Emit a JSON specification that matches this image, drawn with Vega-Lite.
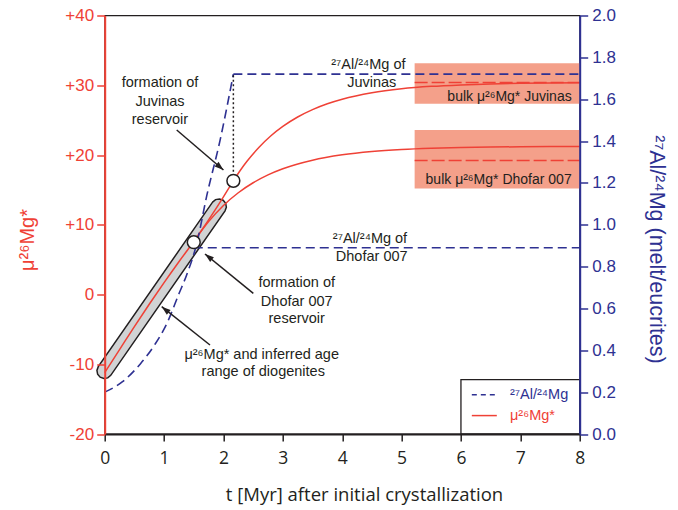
{
  "$schema": "https://vega.github.io/schema/vega-lite/v6.json",
  "width": 475,
  "height": 418.5,
  "autosize": "none",
  "padding": {"left": 104.7, "top": 15.5, "right": 98.3, "bottom": 76},
  "background": "white",
  "config": {"view": {"stroke": "#231f20", "strokeWidth": 1.3}, "font": "Liberation Sans"},
  "datasets": {
    "boxes": [
      {"t": 5.22, "t2": 8, "mu": 27.35, "mu2": 33.15},
      {"t": 5.22, "t2": 8, "mu": 15.2, "mu2": 23.6}
    ],
    "ellipse": [
      {"i": 1, "t": 1.8166, "mu": 13.239},
      {"i": 2, "t": 1.8671, "mu": 13.603},
      {"i": 3, "t": 1.9323, "mu": 13.702},
      {"i": 4, "t": 1.9948, "mu": 13.511},
      {"i": 5, "t": 2.0376, "mu": 13.081},
      {"i": 6, "t": 2.0492, "mu": 12.526},
      {"i": 7, "t": 2.0268, "mu": 11.994},
      {"i": 8, "t": 0.1017, "mu": -11.59},
      {"i": 9, "t": 0.0512, "mu": -11.954},
      {"i": 10, "t": -0.014, "mu": -12.053},
      {"i": 11, "t": -0.0765, "mu": -11.862},
      {"i": 12, "t": -0.1192, "mu": -11.432},
      {"i": 13, "t": -0.1309, "mu": -10.878},
      {"i": 14, "t": -0.1085, "mu": -10.345}
    ],
    "mu": [
      {"s": "m", "t": 0, "mu": -11.2},
      {"s": "m", "t": 0.25, "mu": -7.9},
      {"s": "m", "t": 0.5, "mu": -4.6},
      {"s": "m", "t": 0.75, "mu": -1.4},
      {"s": "m", "t": 1.0, "mu": 1.7},
      {"s": "m", "t": 1.25, "mu": 4.7},
      {"s": "m", "t": 1.5, "mu": 7.6},
      {"s": "m", "t": 1.75, "mu": 10.7},
      {"s": "m", "t": 2.0, "mu": 14.0},
      {"s": "m", "t": 2.167, "mu": 16.3},
      {"s": "m", "t": 2.3, "mu": 18.0},
      {"s": "m", "t": 2.4, "mu": 19.14},
      {"s": "m", "t": 2.6, "mu": 21.12},
      {"s": "m", "t": 2.8, "mu": 22.76},
      {"s": "m", "t": 3.0, "mu": 24.1},
      {"s": "m", "t": 3.25, "mu": 25.45},
      {"s": "m", "t": 3.5, "mu": 26.51},
      {"s": "m", "t": 3.75, "mu": 27.35},
      {"s": "m", "t": 4.0, "mu": 28.0},
      {"s": "m", "t": 4.5, "mu": 28.92},
      {"s": "m", "t": 5.0, "mu": 29.49},
      {"s": "m", "t": 5.5, "mu": 29.84},
      {"s": "m", "t": 6.0, "mu": 30.05},
      {"s": "m", "t": 6.5, "mu": 30.19},
      {"s": "m", "t": 7.0, "mu": 30.27},
      {"s": "m", "t": 7.5, "mu": 30.32},
      {"s": "m", "t": 8.0, "mu": 30.35},
      {"s": "d", "t": 1.5, "mu": 7.6},
      {"s": "d", "t": 1.75, "mu": 10.45},
      {"s": "d", "t": 2.0, "mu": 12.77},
      {"s": "d", "t": 2.25, "mu": 14.59},
      {"s": "d", "t": 2.5, "mu": 16.02},
      {"s": "d", "t": 2.75, "mu": 17.15},
      {"s": "d", "t": 3.0, "mu": 18.03},
      {"s": "d", "t": 3.5, "mu": 19.26},
      {"s": "d", "t": 4.0, "mu": 20.02},
      {"s": "d", "t": 4.5, "mu": 20.49},
      {"s": "d", "t": 5.0, "mu": 20.78},
      {"s": "d", "t": 5.5, "mu": 20.96},
      {"s": "d", "t": 6.0, "mu": 21.07},
      {"s": "d", "t": 6.5, "mu": 21.14},
      {"s": "d", "t": 7.0, "mu": 21.18},
      {"s": "d", "t": 7.5, "mu": 21.21},
      {"s": "d", "t": 8.0, "mu": 21.22}
    ],
    "bulk": [
      {"t": 5.22, "t2": 8, "mu": 30.4},
      {"t": 5.22, "t2": 8, "mu": 19.2}
    ],
    "al": [
      {"s": "c", "t": 0, "al": 0.2},
      {"s": "c", "t": 0.3, "al": 0.25},
      {"s": "c", "t": 0.6, "al": 0.335},
      {"s": "c", "t": 0.85, "al": 0.43},
      {"s": "c", "t": 1.05, "al": 0.53},
      {"s": "c", "t": 1.25, "al": 0.67},
      {"s": "c", "t": 1.38, "al": 0.76},
      {"s": "c", "t": 1.55, "al": 0.91},
      {"s": "c", "t": 1.72, "al": 1.14},
      {"s": "c", "t": 1.94, "al": 1.4},
      {"s": "c", "t": 2.167, "al": 1.72},
      {"s": "j", "t": 2.167, "al": 1.72},
      {"s": "j", "t": 8, "al": 1.72},
      {"s": "h", "t": 1.5, "al": 0.89},
      {"s": "h", "t": 8, "al": 0.89}
    ],
    "legendBox": [{"t": 6, "t2": 8, "al": 0, "al2": 0.26}],
    "legendBlue": [{"t": 6.183, "t2": 6.604, "al": 0.188, "label": "²⁷Al/²⁴Mg", "tl": 6.826}],
    "legendRed": [{"t": 6.183, "t2": 6.604, "al": 0.088, "label": "μ²⁶Mg*", "tl": 6.826}],
    "dotted": [{"t": 2.167, "mu": 16.3, "mu2": 31.6}],
    "arrows": [
      {"t": 1.213, "mu": 23.58, "t2": 2.0, "mu2": 17.85},
      {"t": 2.503, "mu": 0.17, "t2": 1.689, "mu2": 5.81},
      {"t": 1.773, "mu": -7.24, "t2": 0.96, "mu2": -1.75}
    ],
    "head1": [{"t": 2.0, "mu": 17.85}],
    "head2": [{"t": 1.689, "mu": 5.81}, {"t": 0.96, "mu": -1.75}],
    "circles": [{"t": 1.5, "mu": 7.5}, {"t": 2.167, "mu": 16.3}],
    "notes": [
      {"t": 0.931, "mu": 30.28, "label": "formation of"},
      {"t": 0.931, "mu": 27.64, "label": "Juvinas"},
      {"t": 0.931, "mu": 25.02, "label": "reservoir"},
      {"t": 3.234, "mu": 1.61, "label": "formation of"},
      {"t": 3.234, "mu": -1.03, "label": "Dhofar 007"},
      {"t": 3.234, "mu": -3.51, "label": "reservoir"},
      {"t": 2.644, "mu": -8.67, "label": "μ²⁶Mg* and inferred age"},
      {"t": 2.67, "mu": -11.15, "label": "range of diogenites"},
      {"t": 4.44, "mu": 32.9, "label": "²⁷Al/²⁴Mg of"},
      {"t": 4.497, "mu": 30.28, "label": "Juvinas"},
      {"t": 4.468, "mu": 7.96, "label": "²⁷Al/²⁴Mg of"},
      {"t": 4.497, "mu": 5.42, "label": "Dhofar 007"}
    ],
    "bulkText": [
      {"t": 7.865, "mu": 28.36, "label": "bulk μ²⁶Mg* Juvinas"},
      {"t": 7.865, "mu": 16.42, "label": "bulk μ²⁶Mg* Dhofar 007"}
    ]
  },
  "encoding": {
    "x": {
      "field": "t", "type": "quantitative",
      "scale": {"domain": [0, 8], "nice": false, "zero": false},
      "axis": {
        "values": [0, 1, 2, 3, 4, 5, 6, 7, 8], "grid": false, "labelFlush": false,
        "labelFont": "Open Sans", "labelFontSize": 17.5, "labelColor": "#231f20", "labelPadding": 8,
        "tickColor": "#231f20", "tickWidth": 1.5, "tickSize": 7,
        "domainColor": "#231f20", "domainWidth": 2,
        "title": "t [Myr] after initial crystallization", "titleFont": "Open Sans", "titleFontSize": 18.5,
        "titleFontWeight": "normal", "titleColor": "#231f20",
        "titleX": 259.3, "titleY": 66.5, "titleAlign": "center", "titleBaseline": "alphabetic",
        "zindex": 1
      }
    }
  },
  "layer": [
    {
      "encoding": {
        "y": {
          "field": "mu", "type": "quantitative",
          "scale": {"domain": [-20, 40], "nice": false, "zero": false},
          "axis": {
            "values": [-20, -10, 0, 10, 20, 30, 40], "grid": false, "labelFlush": false,
            "labelExpr": "datum.value > 0 ? '+' + datum.value : '' + datum.value",
            "labelFont": "Liberation Sans", "labelFontSize": 17, "labelColor": "#EF4136", "labelPadding": 3,
            "tickColor": "#EF4136", "tickWidth": 1.5, "tickSize": 8,
            "domainColor": "#EF4136", "domainWidth": 2,
            "title": "μ²⁶Mg*", "titleFont": "Liberation Sans", "titleFontSize": 20, "titleFontWeight": "normal",
            "titleColor": "#EF4136", "titleAngle": -90, "titleAlign": "center", "titleBaseline": "alphabetic",
            "titleX": -71.2, "titleY": 224, "zindex": 1
          }
        }
      },
      "layer": [
        {
          "data": {"name": "boxes"},
          "mark": {"type": "rect", "fill": "#F4A08A", "opacity": 1},
          "encoding": {"x2": {"field": "t2"}, "y2": {"field": "mu2"}}
        },
        {
          "data": {"name": "ellipse"},
          "mark": {"type": "line", "interpolate": "linear-closed", "fill": "#D1D3D4", "stroke": "#231f20", "strokeWidth": 1.5},
          "encoding": {"order": {"field": "i", "type": "quantitative"}}
        },
        {
          "data": {"name": "mu"},
          "mark": {"type": "line", "color": "#EF4136", "strokeWidth": 1.5, "interpolate": "monotone"},
          "encoding": {"detail": {"field": "s"}}
        },
        {
          "data": {"name": "bulk"},
          "mark": {"type": "rule", "color": "#EF4136", "strokeWidth": 1.5, "strokeDash": [13, 4]},
          "encoding": {"x2": {"field": "t2"}}
        }
      ]
    },
    {
      "encoding": {
        "y": {
          "field": "al", "type": "quantitative",
          "scale": {"domain": [0, 2], "nice": false, "zero": false},
          "axis": {
            "orient": "right", "values": [0, 0.2, 0.4, 0.6, 0.8, 1, 1.2, 1.4, 1.6, 1.8, 2], "format": ".1f",
            "grid": false, "labelFlush": false,
            "labelFont": "Liberation Sans", "labelFontSize": 17, "labelColor": "#2E3192", "labelPadding": 4,
            "tickColor": "#2E3192", "tickWidth": 1.5, "tickSize": 8,
            "domainColor": "#2E3192", "domainWidth": 2,
            "title": "²⁷Al/²⁴Mg (melt/eucrites)", "titleFont": "Liberation Sans", "titleFontSize": 21.5,
            "titleFontWeight": "normal", "titleColor": "#2E3192", "titleAngle": 90, "titleAlign": "center",
            "titleBaseline": "alphabetic", "titleX": 70, "titleY": 233.5, "zindex": 1
          }
        }
      },
      "layer": [
        {
          "data": {"name": "al"},
          "mark": {"type": "line", "color": "#2E3192", "strokeWidth": 1.6, "strokeDash": [9, 5], "interpolate": "monotone"},
          "encoding": {"detail": {"field": "s"}}
        },
        {
          "data": {"name": "legendBox"},
          "mark": {"type": "rect", "fill": "white", "stroke": "#231f20", "strokeWidth": 1.3},
          "encoding": {"x2": {"field": "t2"}, "y2": {"field": "al2"}}
        },
        {
          "data": {"name": "legendBlue"},
          "mark": {"type": "rule", "color": "#2E3192", "strokeWidth": 1.5, "strokeDash": [5, 4]},
          "encoding": {"x2": {"field": "t2"}}
        },
        {
          "data": {"name": "legendRed"},
          "mark": {"type": "rule", "color": "#EF4136", "strokeWidth": 1.5},
          "encoding": {"x2": {"field": "t2"}}
        },
        {
          "data": {"name": "legendBlue"},
          "mark": {"type": "text", "font": "Liberation Sans", "fontSize": 14.5, "color": "#2E3192", "align": "left", "baseline": "middle"},
          "encoding": {"x": {"field": "tl", "type": "quantitative"}, "text": {"field": "label"}}
        },
        {
          "data": {"name": "legendRed"},
          "mark": {"type": "text", "font": "Liberation Sans", "fontSize": 14.5, "color": "#EF4136", "align": "left", "baseline": "middle"},
          "encoding": {"x": {"field": "tl", "type": "quantitative"}, "text": {"field": "label"}}
        }
      ]
    },
    {
      "encoding": {
        "y": {
          "field": "mu", "type": "quantitative",
          "scale": {"domain": [-20, 40], "nice": false, "zero": false},
          "axis": null
        }
      },
      "layer": [
        {
          "data": {"name": "dotted"},
          "mark": {"type": "rule", "color": "#231f20", "strokeWidth": 1.5, "strokeDash": [2, 2.5]},
          "encoding": {"y2": {"field": "mu2"}}
        },
        {
          "data": {"name": "arrows"},
          "mark": {"type": "rule", "color": "#231f20", "strokeWidth": 1.5},
          "encoding": {"x2": {"field": "t2"}, "y2": {"field": "mu2"}}
        },
        {
          "data": {"name": "head1"},
          "mark": {"type": "point", "shape": "M0,0L0.6,1.8L-0.6,1.8Z", "size": 100, "angle": 130.6, "filled": true, "color": "#231f20", "opacity": 1},
          "encoding": {}
        },
        {
          "data": {"name": "head2"},
          "mark": {"type": "point", "shape": "M0,0L0.6,1.8L-0.6,1.8Z", "size": 100, "angle": -51.3, "filled": true, "color": "#231f20", "opacity": 1},
          "encoding": {}
        },
        {
          "data": {"name": "circles"},
          "mark": {"type": "point", "shape": "circle", "size": 165, "filled": true, "fill": "white", "stroke": "#231f20", "strokeWidth": 1.5, "opacity": 1},
          "encoding": {}
        },
        {
          "data": {"name": "notes"},
          "mark": {"type": "text", "font": "Liberation Sans", "fontSize": 14.5, "color": "#231f20", "align": "center", "baseline": "middle"},
          "encoding": {"text": {"field": "label"}}
        },
        {
          "data": {"name": "bulkText"},
          "mark": {"type": "text", "font": "Liberation Sans", "fontSize": 14, "color": "#231f20", "align": "right", "baseline": "middle"},
          "encoding": {"text": {"field": "label"}}
        }
      ]
    }
  ],
  "resolve": {"scale": {"y": "independent"}, "axis": {"y": "independent"}}
}
